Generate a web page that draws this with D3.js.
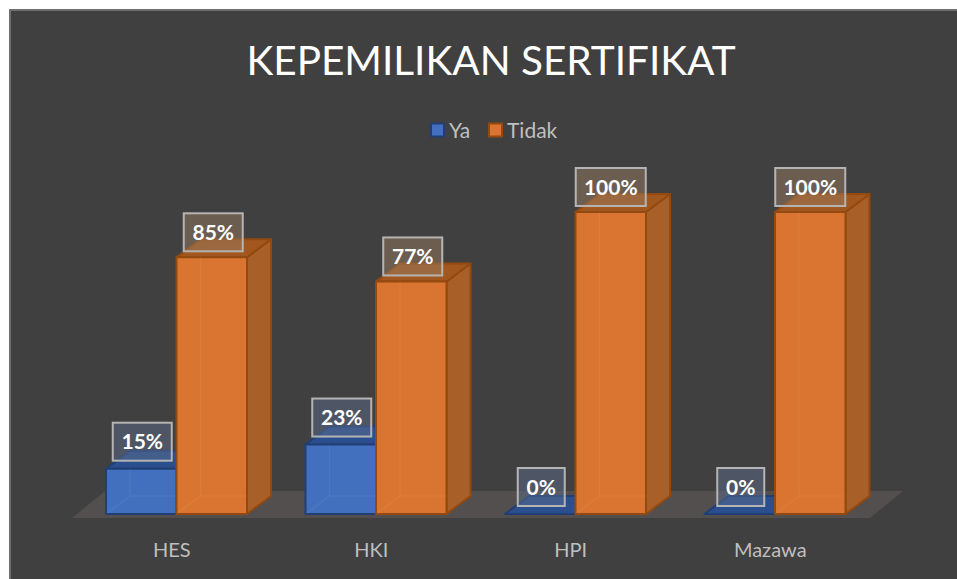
<!DOCTYPE html>
<html><head><meta charset="utf-8">
<script src="https://cdn.jsdelivr.net/npm/d3@7"></script>
<style>html,body{margin:0;padding:0;background:#fff;overflow:hidden}svg{display:block;font-family:Lato,sans-serif}</style>
</head><body><svg id="c" width="957" height="579"></svg>
<script>
const titleText = "KEPEMILIKAN SERTIFIKAT";
const categories = ["HES","HKI","HPI","Mazawa"];
const seriesNames = ["Ya","Tidak"];
const ya = [15,23,0,0];
const tidak = [85,77,100,100];
const seriesValues = [ya, tidak];
const fills = {Ya:{front:"#4270be",top:"#2b4f8e",side:"#2b4f8e",edge:"#203f75"},
               Tidak:{front:"#d97530",top:"#a2571f",side:"#a85f28",edge:"#93490f"}};

const svg = d3.select("#c");
svg.append("rect").attr("x",9).attr("y",9).attr("width",948).attr("height",570).attr("fill","#404040");
svg.append("path").attr("d","M10 579V10H957").attr("fill","none").attr("stroke","#6f6f6f").attr("stroke-width",2);

const x = d3.scaleBand().domain(categories).range([72,870]).paddingInner(0).paddingOuter(0);
const inner = d3.scaleBand().domain(seriesNames).range([34,175]);
const y = d3.scaleLinear().domain([0,100]).range([514,212]);
const dx = 24, dy = -18;

// floor
const fy0 = 518, fy1 = 491;
svg.append("path").attr("d",`M${x.range()[0]} ${fy0}L${x.range()[0]+33} ${fy1}H${x.range()[1]+33}L${x.range()[1]} ${fy0}Z`).attr("fill","#524f4e");

// title, legend
svg.append("text").attr("x",491).attr("y",75).attr("text-anchor","middle").attr("fill","#fff").attr("font-size",40.5).text(titleText);
const lx = d3.scaleOrdinal().domain(seriesNames).range([430,488]);
seriesNames.forEach(s=>{
  const g = svg.append("g");
  g.append("rect").attr("x",lx(s)+1).attr("y",123.5).attr("width",13).attr("height",13).attr("fill",fills[s].front).attr("stroke",fills[s].edge).attr("stroke-width",2);
  g.append("text").attr("x",lx(s)+19).attr("y",137.5).attr("fill","#bfbfbf").attr("font-size",21).text(s);
});

// bars
const bars = [];
categories.forEach((c,i)=>seriesNames.forEach((s,j)=>bars.push({c,s,v:seriesValues[j][i]})));
const g3 = svg.append("g");
function drawBar(d){
  const f = fills[d.s], x0 = x(d.c)+inner(d.s), w = inner.bandwidth(), yb = y(0), yt = y(d.v);
  const g = g3.append("g").attr("stroke",f.edge).attr("stroke-width",2).attr("stroke-linejoin","round");
  g.append("path").attr("d",`M${x0+w} ${yb}L${x0+w+dx} ${yb+dy}V${yt+dy}L${x0+w} ${yt}Z`).attr("fill",f.side);
  g.append("path").attr("d",`M${x0} ${yt}L${x0+dx} ${yt+dy}H${x0+w+dx}L${x0+w} ${yt}Z`).attr("fill",f.top);
  if(d.v>0){
    g.append("rect").attr("x",x0).attr("y",yt).attr("width",w).attr("height",yb-yt).attr("fill",f.front);
    // faint see-through back edges
    g.append("path").attr("d",`M${x0} ${yb}L${x0+dx} ${yb+dy}H${x0+w}M${x0+dx} ${yb+dy}V${yt}`)
      .attr("fill","none").attr("stroke","#fff").attr("stroke-opacity",0.05).attr("stroke-width",1.5);
  }
}
bars.filter(d=>d.s==="Ya").forEach(drawBar);
bars.filter(d=>d.s==="Tidak").forEach(drawBar);

// value labels
bars.forEach(d=>{
  const x0 = x(d.c)+inner(d.s), w = inner.bandwidth();
  const txt = d.v+"%";
  const bw = txt.length===4?70:(txt.length===3?59:47);
  const isYa = d.s==="Ya";
  const cx = x0+w/2+(isYa?1:(txt.length===3?1.5:0));
  const cy = y(d.v)-(isYa?27:25);
  const g = svg.append("g");
  g.append("rect").attr("x",cx-bw/2).attr("y",cy-19).attr("width",bw).attr("height",38)
    .attr("fill",isYa?"#5b6b8a":"#96795f").attr("fill-opacity",0.5).attr("stroke","#b4b4b4").attr("stroke-width",2);
  g.append("text").attr("x",cx).attr("y",cy+7.5).attr("text-anchor","middle").attr("fill","#fff").attr("font-weight",700).attr("font-size",21).text(txt);
});

// category axis
categories.forEach(c=>{
  svg.append("text").attr("x",x(c)+x.bandwidth()/2).attr("y",556.5).attr("text-anchor","middle").attr("fill","#bfbfbf").attr("font-size",20).text(c);
});
</script></body></html>
